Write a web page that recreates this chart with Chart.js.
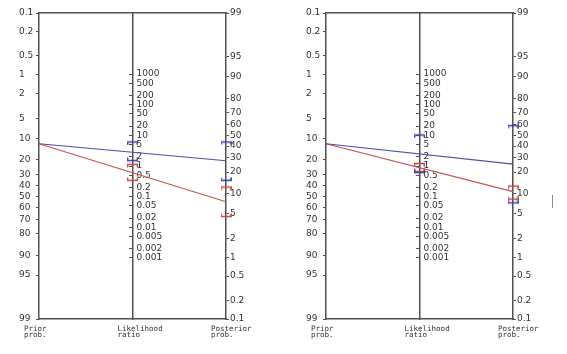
<!DOCTYPE html>
<html><head><meta charset="utf-8">
<script src="https://cdn.jsdelivr.net/npm/chart.js@4.4.1/dist/chart.umd.min.js"></script>
<style>
html,body{margin:0;padding:0;background:#fff;}
#wrap{position:relative;width:567px;height:354px;overflow:hidden;background:#fff;}
#wrap canvas{position:absolute;left:0;top:0;}
#cursor{position:absolute;left:552px;top:195px;width:1px;height:13px;background:#8a8a8a;}
</style></head><body>
<div id="wrap">
<canvas id="c0" width="567" height="354"></canvas>
<canvas id="c1" width="567" height="354"></canvas>
<div id="cursor"></div>
</div>
<script>
// ---- tick labels ----
const PROB_TICKS = [0.1, 0.2, 0.5, 1, 2, 5, 10, 20, 30, 40, 50, 60, 70, 80, 90, 95, 99];
const LR_TICKS = [1000, 500, 200, 100, 50, 20, 10, 5, 2, 1, 0.5, 0.2, 0.1, 0.05, 0.02, 0.01, 0.005, 0.002, 0.001];
const AXIS_TITLES = [['Prior', 'prob.'], ['Likelihood', 'ratio'], ['Posterior', 'prob.']];

// ---- data (one entry per panel: left, right) ----
const PRIOR_PROB = [12, 12];                 // %
const POST_POSITIVE = [27.7, 25.3];          // % (blue line)
const POST_NEGATIVE = [7.6, 10.7];           // % (red line)
const LR_POS_CI_HIGH = [6.1, 10.3];
const LR_POS_CI_LOW = [1.5, 0.61];
const LR_NEG_CI_HIGH = [1.14, 1.21];
const LR_NEG_CI_LOW = [0.34, 0.66];
const POST_POS_CI_HIGH = [43.7, 58.9];       // %
const POST_POS_CI_LOW = [15.5, 7.3];
const POST_NEG_CI_HIGH = [12.5, 12.9];
const POST_NEG_CI_LOW = [4.5, 8.3];

// ---- styling ----
const BLUE = '#4f4fa6';
const RED = '#c85252';
const BR_BLUE = '#3c3caa';
const BR_RED = '#c84444';
const AXIS_COLOR = '#505050';
const TICK_FONT = {family: 'DejaVu Sans', size: 9};
const TITLE_FONT = {family: 'DejaVu Sans Mono', size: 7.5, lineHeight: '5.5px'};

const logit = p => Math.log(p / (100 - p));
const L_MIN = logit(PROB_TICKS[0]);
const L_MAX = logit(PROB_TICKS[PROB_TICKS.length - 1]);
const L_RANGE = L_MAX - L_MIN;
// prior axis is the reversed twin of the posterior axis
const priorOnPost = p => L_MIN + L_MAX - logit(p);

function bracket(color, opensDown) {
  const c = document.createElement('canvas');
  c.width = 11; c.height = 7;
  const g = c.getContext('2d');
  g.strokeStyle = color; g.lineWidth = 1.3;
  g.beginPath();
  if (opensDown) { g.moveTo(0.7, 6.5); g.lineTo(0.7, 3.5); g.lineTo(10.3, 3.5); g.lineTo(10.3, 6.5); }
  else { g.moveTo(0.7, 0.5); g.lineTo(0.7, 3.5); g.lineTo(10.3, 3.5); g.lineTo(10.3, 0.5); }
  g.stroke();
  return c;
}
const B_UP = bracket(BR_BLUE, true), B_DN = bracket(BR_BLUE, false);
const R_UP = bracket(BR_RED, true), R_DN = bracket(BR_RED, false);

function leftAlignLabels(s) {
  if (s._leftLabels) return;
  s._leftLabels = true;
  const orig = s._computeLabelItems;
  s._computeLabelItems = function (ca) {
    const items = orig.call(this, ca);
    items.forEach(it => { it.options.textAlign = 'left'; it.options.translation[0] += 4; });
    return items;
  };
}

function makeChart(id, k, padding) {
  const ciDs = (vals, style, axis, xPos) => ({
    data: vals.map(v => ({x: xPos, y: v})),
    yAxisID: axis, showLine: false, clip: false,
    pointStyle: style, pointRadius: 5, borderWidth: 0
  });
  new Chart(document.getElementById(id), {
    type: 'scatter',
    data: {
      datasets: [
        {data: [{x: 0, y: priorOnPost(PRIOR_PROB[k])}, {x: 2, y: logit(POST_POSITIVE[k])}],
         yAxisID: 'yPost', showLine: true, borderColor: BLUE, borderWidth: 1.2, pointRadius: 0, clip: false},
        {data: [{x: 0, y: priorOnPost(PRIOR_PROB[k])}, {x: 2, y: logit(POST_NEGATIVE[k])}],
         yAxisID: 'yPost', showLine: true, borderColor: RED, borderWidth: 1.2, pointRadius: 0, clip: false},
        ciDs([Math.log(LR_POS_CI_HIGH[k]), Math.log(LR_POS_CI_LOW[k])], [B_UP, B_DN], 'yLR', 1),
        ciDs([Math.log(LR_NEG_CI_HIGH[k]), Math.log(LR_NEG_CI_LOW[k])], [R_UP, R_DN], 'yLR', 1),
        ciDs([logit(POST_POS_CI_HIGH[k]), logit(POST_POS_CI_LOW[k])], [B_UP, B_DN], 'yPost', 2),
        ciDs([logit(POST_NEG_CI_HIGH[k]), logit(POST_NEG_CI_LOW[k])], [R_UP, R_DN], 'yPost', 2)
      ]
    },
    options: {
      responsive: false, animation: false, events: [],
      layout: {padding},
      plugins: {legend: {display: false}, tooltip: {enabled: false}},
      scales: {
        x: {
          type: 'linear', position: 'bottom', min: 0, max: 2,
          afterBuildTicks: s => { s.ticks = AXIS_TITLES.map((t, i) => ({value: i})); },
          afterFit: s => { s.height = 25; },
          ticks: {autoSkip: false, align: 'start', labelOffset: -15, padding: 7.5, maxRotation: 0,
                  color: '#333', font: TITLE_FONT, callback: (v, i) => AXIS_TITLES[i]},
          grid: {display: false, drawTicks: false},
          border: {display: true, color: AXIS_COLOR, width: 1.5}
        },
        xTop: {
          type: 'linear', position: 'top', min: 0, max: 2,
          afterFit: s => { s.height = 0; },
          ticks: {display: false},
          grid: {display: false, drawTicks: false},
          border: {display: true, color: AXIS_COLOR, width: 1.5}
        },
        yPrior: {
          type: 'linear', position: 'left', reverse: true, min: L_MIN, max: L_MAX,
          afterBuildTicks: s => { s.ticks = PROB_TICKS.map(p => ({value: logit(p)})); },
          afterFit: s => { s.width = 20; },
          ticks: {autoSkip: false, crossAlign: 'far', padding: 0, color: '#333', font: TICK_FONT,
                  callback: (v, i) => String(PROB_TICKS[i])},
          grid: {drawOnChartArea: false, tickLength: 3, color: AXIS_COLOR},
          border: {display: true, color: AXIS_COLOR, width: 1.5}
        },
        yPost: {
          type: 'linear', position: 'right', min: L_MIN, max: L_MAX,
          afterBuildTicks: s => { s.ticks = PROB_TICKS.map(p => ({value: logit(p)})); },
          afterFit: s => { s.width = 30; },
          ticks: {autoSkip: false, crossAlign: 'near', padding: 1, color: '#333', font: TICK_FONT,
                  callback: (v, i) => String(PROB_TICKS[i])},
          grid: {drawOnChartArea: false, tickLength: 3, color: AXIS_COLOR},
          border: {display: true, color: AXIS_COLOR, width: 1.5}
        },
        yLR: {
          type: 'linear', position: {x: 1}, min: -L_RANGE, max: L_RANGE,
          afterBuildTicks: s => { s.ticks = LR_TICKS.map(v => ({value: Math.log(v)})); },
          afterFit: leftAlignLabels,
          ticks: {autoSkip: false, padding: 0, color: '#333', font: TICK_FONT,
                  callback: (v, i) => String(LR_TICKS[i])},
          grid: {drawOnChartArea: false, tickLength: 3, color: AXIS_COLOR},
          border: {display: true, color: AXIS_COLOR, width: 1.5}
        }
      }
    }
  });
}

makeChart('c0', 0, {left: 19, right: 311, top: 13, bottom: 10});
makeChart('c1', 1, {left: 306, right: 24, top: 13, bottom: 10});
</script>
</body></html>
